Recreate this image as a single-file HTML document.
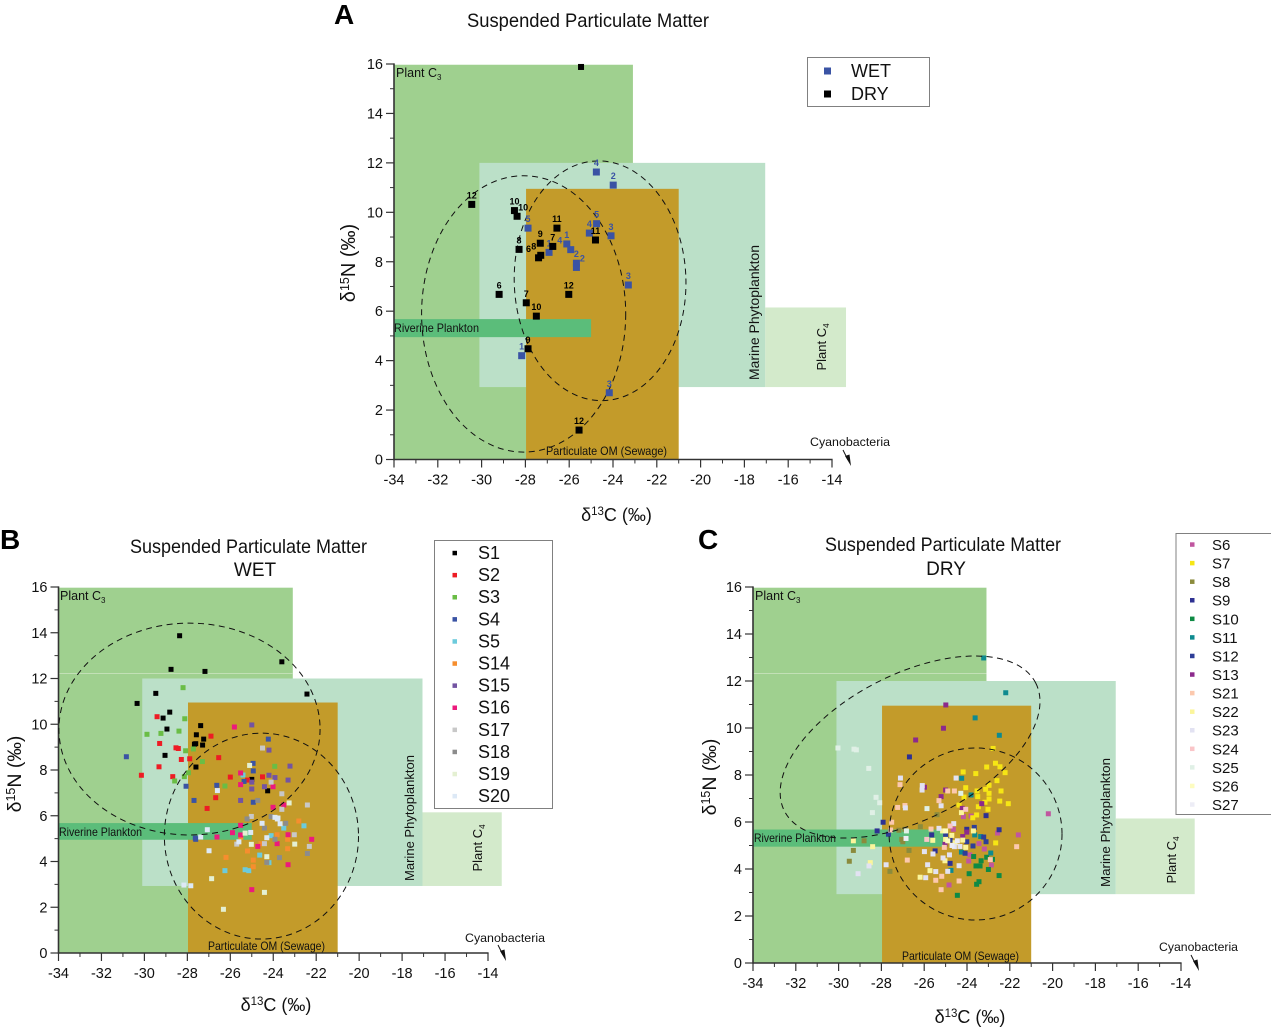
<!DOCTYPE html>
<html lang="en">
<head>
<meta charset="utf-8">
<title>Suspended Particulate Matter</title>
<style>
html,body{margin:0;padding:0;background:#fff;width:1271px;height:1027px;overflow:hidden}
svg{display:block;font-family:"Liberation Sans",Arial,sans-serif}
</style>
</head>
<body>
<svg id="chart" width="1271" height="1027" viewBox="0 0 1271 1027" xmlns="http://www.w3.org/2000/svg">
<g id="panel-a"></g>
<g id="panel-b"></g>
<g id="panel-c"></g>
<g id="static-text" fill="#111">
  <text x="334" y="24" font-size="28" font-weight="bold" fill="#000">A</text>
  <text x="0" y="549" font-size="28" font-weight="bold" fill="#000">B</text>
  <text x="698" y="549" font-size="28" font-weight="bold" fill="#000">C</text>

  <text x="467" y="27" font-size="19.5" textLength="242" lengthAdjust="spacingAndGlyphs">Suspended Particulate Matter</text>
  <text x="130" y="553" font-size="19.5" textLength="237" lengthAdjust="spacingAndGlyphs">Suspended Particulate Matter</text>
  <text x="255" y="576" font-size="19" text-anchor="middle">WET</text>
  <text x="825" y="551" font-size="19.5" textLength="236" lengthAdjust="spacingAndGlyphs">Suspended Particulate Matter</text>
  <text x="946" y="575" font-size="19" text-anchor="middle">DRY</text>

  <text x="616.5" y="521" font-size="18" text-anchor="middle">δ<tspan dy="-6" font-size="11.5">13</tspan><tspan dy="6">C (‰)</tspan></text>
  <text x="276" y="1011" font-size="18" text-anchor="middle">δ<tspan dy="-6" font-size="11.5">13</tspan><tspan dy="6">C (‰)</tspan></text>
  <text x="970" y="1023" font-size="18" text-anchor="middle">δ<tspan dy="-6" font-size="11.5">13</tspan><tspan dy="6">C (‰)</tspan></text>
  <text transform="translate(355,263) rotate(-90)" font-size="20" text-anchor="middle">δ<tspan dy="-6" font-size="12.5">15</tspan><tspan dy="6">N (‰)</tspan></text>
  <text transform="translate(21,774) rotate(-90)" font-size="19.5" text-anchor="middle">δ<tspan dy="-6" font-size="12.5">15</tspan><tspan dy="6">N (‰)</tspan></text>
  <text transform="translate(716,777) rotate(-90)" font-size="19.5" text-anchor="middle">δ<tspan dy="-6" font-size="12.5">15</tspan><tspan dy="6">N (‰)</tspan></text>

  <text x="396" y="77" font-size="12.5">Plant C<tspan dy="3" font-size="8">3</tspan></text>
  <text x="60" y="600" font-size="12.5">Plant C<tspan dy="3" font-size="8">3</tspan></text>
  <text x="755" y="600" font-size="12.5">Plant C<tspan dy="3" font-size="8">3</tspan></text>

  <text transform="translate(759,380) rotate(-90)" font-size="13.5" textLength="135" lengthAdjust="spacingAndGlyphs">Marine Phytoplankton</text>
  <text transform="translate(414,881) rotate(-90)" font-size="13" textLength="126" lengthAdjust="spacingAndGlyphs">Marine Phytoplankton</text>
  <text transform="translate(1110,887) rotate(-90)" font-size="13" textLength="129" lengthAdjust="spacingAndGlyphs">Marine Phytoplankton</text>

  <text transform="translate(826,347) rotate(-90)" font-size="13" text-anchor="middle">Plant C<tspan dy="3" font-size="8">4</tspan></text>
  <text transform="translate(482,848) rotate(-90)" font-size="13" text-anchor="middle">Plant C<tspan dy="3" font-size="8">4</tspan></text>
  <text transform="translate(1176,860) rotate(-90)" font-size="13" text-anchor="middle">Plant C<tspan dy="3" font-size="8">4</tspan></text>

  <text x="394" y="332" font-size="12" textLength="85" lengthAdjust="spacingAndGlyphs">Riverine Plankton</text>
  <text x="59" y="836" font-size="12" textLength="83" lengthAdjust="spacingAndGlyphs">Riverine Plankton</text>
  <text x="754" y="842" font-size="12" textLength="82" lengthAdjust="spacingAndGlyphs">Riverine Plankton</text>

  <text x="546" y="455" font-size="12" textLength="121" lengthAdjust="spacingAndGlyphs">Particulate OM (Sewage)</text>
  <text x="208" y="950" font-size="12" textLength="117" lengthAdjust="spacingAndGlyphs">Particulate OM (Sewage)</text>
  <text x="902" y="960" font-size="12" textLength="117" lengthAdjust="spacingAndGlyphs">Particulate OM (Sewage)</text>

  <text x="810" y="446" font-size="12.3" textLength="80" lengthAdjust="spacingAndGlyphs">Cyanobacteria</text>
  <text x="465" y="942" font-size="12.3" textLength="80" lengthAdjust="spacingAndGlyphs">Cyanobacteria</text>
  <text x="1159" y="951" font-size="12.3" textLength="79" lengthAdjust="spacingAndGlyphs">Cyanobacteria</text>

  <g stroke="#111" stroke-width="1"><line x1="843" y1="450" x2="848" y2="460"/><polygon points="851,466 845,456 849.5,454.5" stroke="none"/></g>
  <g stroke="#111" stroke-width="1"><line x1="498" y1="945" x2="503" y2="955"/><polygon points="506,961 500,951 504.5,949.5" stroke="none"/></g>
  <g stroke="#111" stroke-width="1"><line x1="1191" y1="955" x2="1196" y2="965"/><polygon points="1199,971 1193,961 1197.5,959.5" stroke="none"/></g>

  <rect x="807.5" y="57.5" width="122" height="49" fill="#fff" stroke="#808080"/>
  <text x="851" y="77" font-size="18">WET</text>
  <text x="851" y="100" font-size="18">DRY</text>
  <rect x="434.5" y="540.5" width="118" height="268" fill="#fff" stroke="#808080"/>
  <rect x="1176" y="533.5" width="97" height="281" fill="#fff" stroke="#808080"/>
</g>
<g id="legend-entries"></g>
</svg>
<script>
// Panel A: monthly wet / dry samples
const wetX = [-24.76,-23.99,-27.88,-24.75,-25.08,-24.09,-26.92,-26.11,-25.93,-25.67,-25.67,-23.3,-28.17,-24.17];
const wetY = [11.63,11.10,9.36,9.54,9.16,9.05,8.38,8.72,8.49,7.94,7.77,7.06,4.2,2.70];
const wetLabels = ["4","2","5","5","4","3","1","1","4","2","2","3","1","3"];
const dryX = [-25.46,-30.45,-28.5,-28.38,-26.56,-24.8,-27.32,-26.75,-28.29,-27.4,-27.3,-29.2,-26.02,-27.96,-27.5,-27.88,-25.55];
const dryY = [15.88,10.32,10.07,9.84,9.36,8.88,8.75,8.62,8.5,8.16,8.26,6.68,6.68,6.34,5.8,4.48,1.19];
const dryLabels = ["","12","10","10","11","11","9","7","8","6","8","6","12","7","10","9","12"];

// Panel B: WET stations
const s1 = [[-28.36,13.87],[-23.6,12.73],[-28.76,12.4],[-27.18,12.31],[-22.43,11.32],[-29.47,11.35],[-30.34,10.91],[-28.82,10.53],[-29.13,10.27],[-27.38,9.94],[-28.95,9.79],[-27.58,9.54],[-27.24,9.35],[-27.61,9.15],[-27.67,9.13],[-27.29,9.09],[-29.04,8.64],[-27.6,8.13],[-25.0,7.59],[-24.26,7.09]];
const s2 = [[-29.41,10.33],[-29.29,9.16],[-28.53,8.97],[-28.42,8.94],[-28.28,8.46],[-27.89,8.49],[-29.32,8.14],[-26.9,9.48],[-26.54,8.54],[-30.14,7.77],[-28.68,7.71],[-26.0,7.69],[-24.5,7.7],[-25.2,7.56],[-26.68,6.79],[-27.08,6.32]];
const s3 = [[-28.2,11.6],[-28.12,10.24],[-28.39,9.7],[-29.23,9.6],[-29.88,9.56],[-28.08,8.84],[-27.72,8.92],[-27.3,8.37],[-27.95,7.88],[-28.59,7.52],[-28.14,7.71],[-26.25,7.3],[-23.93,8.16]];
const s4 = [[-30.84,8.58],[-24.23,9.35],[-28.06,7.29],[-26.63,7.33],[-24.93,7.96],[-24.94,8.29],[-25.36,7.5],[-27.69,6.67],[-24.93,6.59],[-27.63,5.02],[-27.61,4.97]];
const s5 = [[-25.41,7.78],[-24.1,5.13],[-23.51,5.46],[-22.57,5.56],[-24.63,4.28],[-24.2,3.95],[-25.31,3.64],[-25.14,3.6],[-26.25,3.6]];
const s14 = [[-22.81,5.77],[-23.82,5.17],[-23.33,4.97],[-23.33,4.56],[-25.2,4.46],[-24.57,4.78],[-24.93,4.06],[-24.93,3.77],[-26.2,4.18],[-25.51,5.06]];
const s15 = [[-25.0,9.97],[-24.2,8.87],[-23.22,8.17],[-24.2,7.77],[-23.92,7.67],[-23.31,7.56],[-25.0,7.47],[-24.41,7.27],[-25,7.17],[-25.52,6.67]];
const s16 = [[-25.81,9.88],[-25.52,7.87],[-25.52,7.36],[-24.01,7.27],[-23.51,6.47],[-24.01,6.37],[-25.52,5.58],[-25.9,5.26],[-26.62,5.07],[-25.52,5.16],[-24.72,4.66],[-23.82,4.78],[-23.31,5.17],[-22.21,4.97],[-23.31,3.86],[-25,2.77]];
const s17 = [[-24.5,8.96],[-24.1,7.47],[-23.6,6.96],[-23.6,6.28],[-22.41,6.47],[-23.02,5.17],[-22.32,4.66],[-24.41,4.78],[-25.7,4.76],[-25.02,5.97]];
const s18 = [[-24.72,6.67],[-25.22,5.86],[-24.1,5.96],[-23.42,5.67],[-24.41,5.46],[-23.92,4.97],[-22.41,4.35],[-23.71,4.17],[-24.3,3.96]];
const s19 = [[-25.1,8.2],[-23.26,6.56],[-25.31,5.24],[-25.02,4.75],[-23,4.76],[-24.3,4.21],[-26.87,3.25],[-24.41,2.65],[-26.32,1.91]];
const s20 = [[-26.6,7.1],[-27.07,5.39],[-27.38,5.07],[-26.99,4.47],[-28.16,2.97],[-27.84,2.94],[-25.6,4.86],[-25.05,5.27],[-24.52,5.67],[-24.3,5.04],[-23.92,5.93],[-23.81,5.86],[-23.78,5.9],[-23.68,5.65]];

// Panel C: DRY stations
const s6 = [[-20.2,6.35],[-21.6,5.45],[-22.57,5.53],[-23.44,5.08],[-23.19,4.85],[-23.87,4.6],[-23.92,4.34],[-22.86,4.17],[-24.84,3.32],[-24.17,6.23],[-23.81,6.25],[-24.64,5.69]];
const s7 = [[-22.78,9.13],[-24.18,8.13],[-23.59,8.06],[-23.08,8.34],[-22.67,8.5],[-22.46,8.35],[-22.22,8.1],[-24.06,7.46],[-23.53,7.32],[-22.97,7.56],[-22.6,7.76],[-23.13,7.39],[-22.41,7.32],[-22.97,7.22],[-23.5,7.08],[-24.14,7.06],[-22.97,6.98],[-23.16,6.84],[-22.47,6.89],[-22.07,6.78],[-24.37,6.72],[-23.47,6.65],[-23.02,6.54],[-23.55,6.3],[-23.73,6.18],[-22.66,5.11]];
const s8 = [[-25.4,6.31],[-26.18,5.8],[-27.18,5.65],[-28.81,5.2],[-29.31,4.79],[-29.5,4.33],[-26.71,4.79],[-27.05,5.26],[-27.0,5.16],[-27.6,3.9],[-26.9,5.69]];
const s9 = [[-26.69,8.77],[-27.92,5.99],[-28.2,5.62],[-25.65,5.45],[-25.49,4.77],[-24.79,4.24],[-23.11,6.27],[-22.5,5.67],[-24.01,5.69]];
const s10 = [[-23.69,4.53],[-23.34,4.35],[-23.08,4.5],[-22.81,4.41],[-23.58,4.13],[-23.39,4.13],[-23,3.98],[-23.9,3.8],[-22.5,3.72],[-23.44,3.46],[-23.55,3.35],[-24.45,2.88]];
const s11 = [[-23.22,12.98],[-22.19,11.5],[-23.62,10.43],[-22.49,9.69],[-24.25,7.86],[-23.81,7.15],[-23.36,5.38],[-23.64,5.45],[-24.26,4.72],[-22.89,4.68],[-24.75,3.94]];
const s12 = [[-27.67,5.48],[-23.22,5.36],[-23.11,5.16],[-23.72,4.98],[-24.01,5.16],[-24.09,4.67],[-25,5.43],[-24.79,5.23],[-23.66,5.77]];
const s13 = [[-24.99,10.98],[-25.1,9.99],[-26.4,9.49],[-25.99,7.48],[-25,7.36],[-25.21,7.08],[-23.31,6.78],[-24.22,6.58],[-24.01,5.57],[-24.2,5.38],[-25.03,5.06]];
const s21 = [[-27.13,7.59],[-27.24,6.62],[-26.9,6.7],[-27.52,5.99],[-27.57,5.66],[-24.9,7.32],[-24.59,7.32],[-25.31,6.91],[-25.68,5.70],[-25.06,4.92],[-21.68,4.95],[-22.91,4.4],[-26.79,4.38],[-25.18,3.69],[-25.46,3.52],[-24.37,3.49],[-25.21,3.12]];
const s22 = [[-29.31,5.2],[-28.41,4.95],[-28.52,4.27],[-25.6,5.22],[-25.14,5.62],[-24.71,5.43],[-25,5.26],[-24.2,5.23],[-23.7,5.62],[-24.26,6.4],[-25.73,3.93],[-26.19,3.65],[-25.03,4.35],[-24.56,5.12],[-24.06,4.92]];
const s23 = [[-27.11,7.87],[-24.51,7.87],[-26.09,7.55],[-26.1,7.36],[-25.21,6.69],[-26.88,6.6],[-24.62,5.93],[-25.31,5.73],[-25.99,4.74],[-25.59,4.64],[-24.82,4.6],[-25.84,4.18],[-27.78,4.18],[-25.46,3.89],[-24.9,3.9],[-25.93,3.63],[-24.37,4.14],[-28.58,4.13],[-29.09,3.8],[-25.12,4.47],[-24.59,4.95],[-24.33,4.96]];
const s24 = [[-24.06,6.54],[-24.79,5.83],[-25.88,5.26]];
const s25 = [[-30.03,9.15],[-29.28,9.1],[-29.17,9.07],[-28.59,8.28],[-28.25,7.05],[-28.08,6.82],[-28.42,6.4],[-24.29,7.22],[-25.87,6.57],[-26.83,5.62]];
const s26 = [[-25.0,5.62],[-24.9,5.2]];
const s27 = [[-26.85,5.3],[-24.7,5.0],[-24.45,5.2]];

// Axis tick values
const xTickValues = [-34,-32,-30,-28,-26,-24,-22,-20,-18,-16,-14];
const xMinorValues = [-33,-31,-29,-27,-25,-23,-21,-19,-17,-15];
const yTickValues = [0,2,4,6,8,10,12,14,16];
const yMinorValues = [1,3,5,7,9,11,13,15];

// Source-zone extents in delta units: [xMin, xMax, yMin, yMax]
const plantC3Zone = [-34,-23.09,0,15.97];
const marineZone = [-30.1,-17.05,2.93,12];
const plantC4Zone = [-17.05,-13.36,2.93,6.15];
const particulateZone = [-27.97,-21,0,10.95];
const riverineZone = [-34,-25,4.95,5.68];

// Ellipses: centre x, centre y, x radius, y radius, tilt degrees
const ellipseA1 = [-28.08,5.89,4.66,5.59,0];
const ellipseA2 = [-24.59,7.23,3.92,4.85,-1.5];
const ellipseB1 = [-27.9,9.79,6.08,4.63,0];
const ellipseB2 = [-24.55,5.11,4.52,4.5,0];
const ellipseC1 = [-26.66,9.19,6.59,3.09,-27];
const ellipseC2 = [-23.6,5.49,4.04,3.66,0];

const NS = 'http://www.w3.org/2000/svg';

function add(parent, tag, attrs, text) {
  const e = document.createElementNS(NS, tag);
  for (const k in attrs) e.setAttribute(k, attrs[k]);
  if (text !== undefined) e.textContent = text;
  parent.appendChild(e);
  return e;
}

function makeAxes(xAt34, xAt14, yAt0, yAt16) {
  const sx = v => xAt34 + (v + 34) * (xAt14 - xAt34) / 20;
  const sy = v => yAt0 - v * (yAt0 - yAt16) / 16;
  return { sx, sy };
}

function drawZone(g, ax, zone, fill, name) {
  const r = add(g, 'rect', {
    x: ax.sx(zone[0]), y: ax.sy(zone[3]),
    width: ax.sx(zone[1]) - ax.sx(zone[0]),
    height: ax.sy(zone[2]) - ax.sy(zone[3]),
    fill: fill
  });
  
  
}

function drawEllipse(g, ax, params, name) {
  const cx = ax.sx(params[0]), cy = ax.sy(params[1]);
  const rx = ax.sx(params[0] + params[2]) - cx;
  const ry = cy - ax.sy(params[1] + params[3]);
  const p = add(g, 'ellipse', {
    cx: cx, cy: cy, rx: rx, ry: ry,
    transform: 'rotate(' + params[4] + ' ' + cx + ' ' + cy + ')',
    fill: 'none', stroke: '#111', 'stroke-width': 1, 'stroke-dasharray': '6 4.5'
  });
  
  
}

function drawMarker(g, ax, x, y, size, color, name) {
  const m = add(g, 'rect', {
    x: ax.sx(x) - size / 2, y: ax.sy(y) - size / 2,
    width: size, height: size, fill: color
  });
  
  
}

function drawAxes(g, ax, tickBaseline) {
  const xEnd = ax.sx(-14);
  const xLine = add(g, 'line', { x1: ax.sx(-34), x2: xEnd + 0.6, y1: ax.sy(0), y2: ax.sy(0), stroke: '#333', 'stroke-width': 1.6 });
  
  
  const yLine = add(g, 'line', { x1: ax.sx(-34), x2: ax.sx(-34), y1: ax.sy(0) + 0.7, y2: ax.sy(16) - 0.6, stroke: '#333', 'stroke-width': 1.6 });
  
  

  xTickValues.forEach(v => {
    const t = add(g, 'line', { x1: ax.sx(v), x2: ax.sx(v), y1: ax.sy(0), y2: ax.sy(0) + 8, stroke: '#333', 'stroke-width': 1.2 });
    
    
    const l = add(g, 'text', { x: ax.sx(v), y: tickBaseline, 'font-size': 14.5, 'text-anchor': 'middle', fill: '#111' }, String(v));
    
    
  });
  xMinorValues.forEach(v => {
    const t = add(g, 'line', { x1: ax.sx(v), x2: ax.sx(v), y1: ax.sy(0), y2: ax.sy(0) + 4, stroke: '#333', 'stroke-width': 1 });
    
    
  });
  yTickValues.forEach(v => {
    const t = add(g, 'line', { x1: ax.sx(-34) - 8, x2: ax.sx(-34), y1: ax.sy(v), y2: ax.sy(v), stroke: '#333', 'stroke-width': 1.2 });
    
    
    const l = add(g, 'text', { x: ax.sx(-34) - 11, y: ax.sy(v) + 5, 'font-size': 14.5, 'text-anchor': 'end', fill: '#111' }, String(v));
    
    
  });
  yMinorValues.forEach(v => {
    const t = add(g, 'line', { x1: ax.sx(-34) - 4, x2: ax.sx(-34), y1: ax.sy(v), y2: ax.sy(v), stroke: '#333', 'stroke-width': 1 });
    
    
  });
}

function drawZones(g, ax) {
  drawZone(g, ax, plantC3Zone, '#9fd08f', 'plant-c3-zone');
  drawZone(g, ax, plantC4Zone, '#d3eacb', 'plant-c4-zone');
  drawZone(g, ax, marineZone, '#bbe0c8', 'marine-phytoplankton-zone');
  drawZone(g, ax, particulateZone, '#c39b2a', 'particulate-om-zone');
  drawZone(g, ax, riverineZone, '#5bbd7a', 'riverine-plankton-zone');
}

/* ----- Panel A ----- */
const axA = makeAxes(394, 832, 459.5, 64);
const gA = document.getElementById('panel-a');
drawZones(gA, axA);
drawAxes(gA, axA, 484.5);
drawEllipse(gA, axA, ellipseA1, 'dry-ellipse');
drawEllipse(gA, axA, ellipseA2, 'wet-ellipse');

wetX.forEach((x, i) => {
  drawMarker(gA, axA, x, wetY[i], 7, '#3a53a4', 'wet-point');
  const nudge = i === 8 ? -11 : i === 10 ? 6 : 0;
  const l = add(gA, 'text', { x: axA.sx(x) + nudge, y: axA.sy(wetY[i]) - 6, 'font-size': 9, 'font-weight': 'bold', 'text-anchor': 'middle', fill: '#3a53a4' }, wetLabels[i]);
  
  
});
dryX.forEach((x, i) => {
  drawMarker(gA, axA, x, dryY[i], i === 0 ? 6 : 7, '#000', 'dry-point');
  if (dryLabels[i]) {
    const nudge = i === 3 ? 6 : i === 9 ? -10 : i === 10 ? -7 : 0;
    const l = add(gA, 'text', { x: axA.sx(x) + nudge, y: axA.sy(dryY[i]) - 6, 'font-size': 9, 'font-weight': 'bold', 'text-anchor': 'middle', fill: '#000' }, dryLabels[i]);
    
    
  }
});

/* ----- Panel B ----- */
const axB = makeAxes(58.5, 488, 953, 587);
const gB = document.getElementById('panel-b');
drawZones(gB, axB);
const seamB = add(gB, 'line', { x1: axB.sx(-34), x2: axB.sx(-23.09), y1: 673.5, y2: 673.5, stroke: '#c2e0b6', 'stroke-width': 1 });


drawAxes(gB, axB, 978);

const seriesB = [
  ['S1', s1, '#000000'], ['S2', s2, '#ed1c24'], ['S3', s3, '#6abd45'], ['S4', s4, '#3a53a4'],
  ['S5', s5, '#6ccbdc'], ['S14', s14, '#f68e2e'], ['S15', s15, '#7354a2'], ['S16', s16, '#ec1a7c'],
  ['S17', s17, '#c8c8c8'], ['S18', s18, '#8c8c8c'], ['S19', s19, '#e4f0d2'], ['S20', s20, '#dde9f6']
];
seriesB.forEach(s => s[1].forEach(p => drawMarker(gB, axB, p[0], p[1], 5, s[2], s[0].toLowerCase() + '-point')));
drawEllipse(gB, axB, ellipseB1, 'upper-ellipse');
drawEllipse(gB, axB, ellipseB2, 'lower-ellipse');

/* ----- Panel C ----- */
const axC = makeAxes(753, 1181, 963, 587);
const gC = document.getElementById('panel-c');
drawZones(gC, axC);
const seamC = add(gC, 'line', { x1: axC.sx(-34), x2: axC.sx(-23.09), y1: 673.5, y2: 673.5, stroke: '#c2e0b6', 'stroke-width': 1 });


drawAxes(gC, axC, 988);

const seriesC = [
  ['S6', s6, '#c0569f'], ['S7', s7, '#f6e614'], ['S8', s8, '#8b8b3c'], ['S9', s9, '#2e3192'],
  ['S10', s10, '#0e8a44'], ['S11', s11, '#0e8a8f'], ['S12', s12, '#2e3e98'], ['S13', s13, '#8c2a8c'],
  ['S21', s21, '#fcc9ae'], ['S22', s22, '#fbf59b'], ['S23', s23, '#e2e2f2'], ['S24', s24, '#fac5c8'],
  ['S25', s25, '#e0f0e6'], ['S26', s26, '#fdfcc0'], ['S27', s27, '#ededf6']
];
seriesC.forEach(s => s[1].forEach(p => drawMarker(gC, axC, p[0], p[1], 5, s[2], s[0].toLowerCase() + '-point')));
drawEllipse(gC, axC, ellipseC1, 'upper-ellipse');
drawEllipse(gC, axC, ellipseC2, 'lower-ellipse');

/* ----- Legends ----- */
const lg = document.getElementById('legend-entries');
const wetSwatch = add(lg, 'rect', { x: 824, y: 67.5, width: 7, height: 7, fill: '#3a53a4' });


const drySwatch = add(lg, 'rect', { x: 824, y: 90.5, width: 7, height: 7, fill: '#000' });



seriesB.forEach((s, i) => {
  const y = 553 + i * 22.1;
  const m = add(lg, 'rect', { x: 452.5, y: y - 2.2, width: 4.5, height: 4.5, fill: s[2] });
  
  
  const t = add(lg, 'text', { x: 478, y: y + 6, 'font-size': 18, fill: '#111' }, s[0]);
  
  
});
seriesC.forEach((s, i) => {
  const y = 544.5 + i * 18.57;
  const m = add(lg, 'rect', { x: 1190, y: y - 2.2, width: 4.5, height: 4.5, fill: s[2] });
  
  
  const t = add(lg, 'text', { x: 1212, y: y + 5.5, 'font-size': 15, fill: '#111' }, s[0]);
  
  
});
</script>
</body>
</html>
